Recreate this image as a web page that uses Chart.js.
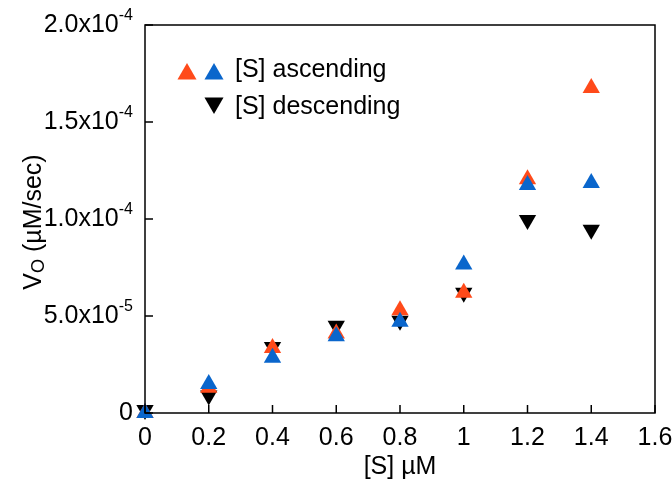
<!DOCTYPE html>
<html>
<head>
<meta charset="utf-8">
<script src="https://cdn.jsdelivr.net/npm/chart.js@4/dist/chart.umd.min.js"></script>
<style>
    html, body { margin: 0; padding: 0; background: #fff; }
    canvas { display: block; }
</style>
</head>
<body>
<canvas id="rate-chart" width="672" height="485"></canvas>
<script>
// Initial velocity vs substrate concentration — ascending / descending runs

const FONT = '"Liberation Sans", Arial, Helvetica, sans-serif';

const COLORS = {
    orange: '#ff4a1a',
    blue: '#0a66cc',
    black: '#000000',
};

// ── Data ──────────────────────────────────────────────────────────────

const substrate = [0, 0.2, 0.4, 0.6, 0.8, 1.0, 1.2, 1.4];          // [S] µM
const ascendingRed = [0, 1.3e-5, 3.35e-5, 4.1e-5, 5.3e-5, 6.2e-5, 1.205e-4, 1.675e-4];
const ascendingBlue = [0, 1.5e-5, 2.85e-5, 3.95e-5, 4.7e-5, 7.65e-5, 1.175e-4, 1.185e-4];
const descending = [0.15e-5, 0.9e-5, 3.4e-5, 4.5e-5, 4.75e-5, 6.2e-5, 0.995e-4, 0.945e-4];

const xTicks = [0, 0.2, 0.4, 0.6, 0.8, 1, 1.2, 1.4, 1.6];
const xTickLabels = ['0', '0.2', '0.4', '0.6', '0.8', '1', '1.2', '1.4', '1.6'];
const yTicks = [0, 5e-5, 1e-4, 1.5e-4, 2e-4];
const yTickMantissa = ['0', '5.0x10', '1.0x10', '1.5x10', '2.0x10'];
const yTickExponent = ['', '-5', '-4', '-4', '-4'];

const toPoints = (ys) => substrate.map((x, i) => ({ x, y: ys[i] }));

// ── Plugins ───────────────────────────────────────────────────────────

// Closed frame with inward tick marks and x tick labels
const framePlugin = {
    id: 'frame',
    afterDraw(chart) {
        const { ctx, chartArea: a, scales } = chart;
        ctx.save();
        ctx.strokeStyle = '#000';
        ctx.lineWidth = 1.5;
        ctx.strokeRect(a.left, a.top, a.right - a.left, a.bottom - a.top);
        ctx.beginPath();
        xTicks.forEach((v) => {
            const px = scales.x.getPixelForValue(v);
            ctx.moveTo(px, a.bottom);
            ctx.lineTo(px, a.bottom - 8);
        });
        yTicks.forEach((v) => {
            const py = scales.y.getPixelForValue(v);
            ctx.moveTo(a.left, py);
            ctx.lineTo(a.left + 8, py);
        });
        ctx.stroke();

        ctx.fillStyle = '#000';
        ctx.font = `25px ${FONT}`;
        ctx.textAlign = 'center';
        ctx.textBaseline = 'middle';
        xTicks.forEach((v, i) => {
            ctx.fillText(xTickLabels[i], scales.x.getPixelForValue(v), a.bottom + 25);
        });
        ctx.restore();
    }
};

// y tick labels in scientific notation with raised exponent
const yLabelPlugin = {
    id: 'yLabels',
    afterDraw(chart) {
        const { ctx, scales } = chart;
        const right = 133;
        ctx.save();
        ctx.fillStyle = '#000';
        ctx.textBaseline = 'middle';
        yTicks.forEach((v, i) => {
            const py = scales.y.getPixelForValue(v);
            ctx.font = `16px ${FONT}`;
            const expW = ctx.measureText(yTickExponent[i]).width;
            ctx.textAlign = 'right';
            ctx.fillText(yTickExponent[i], right, py - 9);
            ctx.font = `25px ${FONT}`;
            ctx.fillText(yTickMantissa[i], right - expW, py);
        });

        // axis title: V with subscript O, then units
        ctx.translate(33, 222);
        ctx.rotate(-Math.PI / 2);
        ctx.textAlign = 'left';
        ctx.textBaseline = 'alphabetic';
        const big = `25px ${FONT}`;
        const small = `18px ${FONT}`;
        ctx.font = big;
        const wV = ctx.measureText('V').width;
        const wRest = ctx.measureText(' (µM/sec)').width;
        ctx.font = small;
        const wO = ctx.measureText('O').width;
        let x = -(wV + wO + wRest) / 2;
        ctx.font = big;
        ctx.fillText('V', x, 8);
        x += wV;
        ctx.font = small;
        ctx.fillText('O', x, 11);
        x += wO;
        ctx.font = big;
        ctx.fillText(' (µM/sec)', x, 8);
        ctx.restore();
    }
};

function triangle(ctx, x, y, r, color, down) {
    const h = down ? -1 : 1;
    ctx.fillStyle = color;
    ctx.beginPath();
    ctx.moveTo(x, y - h * r);
    ctx.lineTo(x + r * 0.866, y + h * r / 2);
    ctx.lineTo(x - r * 0.866, y + h * r / 2);
    ctx.closePath();
    ctx.fill();
}

// Legend drawn by hand: ascending run has two markers on one row
const legendPlugin = {
    id: 'markerLegend',
    afterDraw(chart) {
        const ctx = chart.ctx;
        ctx.save();
        triangle(ctx, 187, 74, 11, COLORS.orange, false);
        triangle(ctx, 214, 74, 11, COLORS.blue, false);
        triangle(ctx, 214, 103, 11, COLORS.black, true);
        ctx.fillStyle = '#000';
        ctx.font = `25px ${FONT}`;
        ctx.textBaseline = 'middle';
        ctx.fillText('[S] ascending', 235, 70);
        ctx.fillText('[S] descending', 235, 107);
        ctx.restore();
    }
};

// ── Chart ─────────────────────────────────────────────────────────────

function initChart() {
    const ctx = document.getElementById('rate-chart').getContext('2d');
    const marker = (color, rotation, order) => ({
        backgroundColor: color,
        borderColor: color,
        borderWidth: 0,
        pointStyle: 'triangle',
        pointRadius: 10,
        pointHoverRadius: 10,
        pointRotation: rotation,
        clip: false,
        order,
    });

    new Chart(ctx, {
        type: 'scatter',
        data: {
            datasets: [
                { label: '[S] descending', data: toPoints(descending), ...marker(COLORS.black, 180, 3) },
                { label: '[S] ascending', data: toPoints(ascendingRed), ...marker(COLORS.orange, 0, 2) },
                { label: '[S] ascending (2)', data: toPoints(ascendingBlue), ...marker(COLORS.blue, 0, 1) },
            ]
        },
        options: {
            responsive: false,
            animation: false,
            devicePixelRatio: 1,
            layout: { padding: { top: 25, right: 17, left: 0, bottom: 0 } },
            plugins: {
                legend: { display: false },
                tooltip: { enabled: false },
            },
            scales: {
                x: {
                    type: 'linear',
                    min: 0,
                    max: 1.6,
                    afterBuildTicks: (scale) => { scale.ticks = xTicks.map((value) => ({ value })); },
                    afterFit: (scale) => { scale.height = 72; },
                    ticks: { display: false },
                    grid: { display: false },
                    border: { display: false },
                    title: {
                        display: true,
                        text: '[S] µM',
                        color: '#000',
                        font: { family: FONT, size: 25 },
                        padding: { top: 0, bottom: 3 },
                    },
                },
                y: {
                    type: 'linear',
                    min: 0,
                    max: 2e-4,
                    afterBuildTicks: (scale) => { scale.ticks = yTicks.map((value) => ({ value })); },
                    afterFit: (scale) => { scale.width = 145; },
                    ticks: { display: false },
                    grid: { display: false },
                    border: { display: false },
                },
            }
        },
        plugins: [framePlugin, yLabelPlugin, legendPlugin],
    });
}

document.addEventListener('DOMContentLoaded', initChart);
</script>
</body>
</html>
